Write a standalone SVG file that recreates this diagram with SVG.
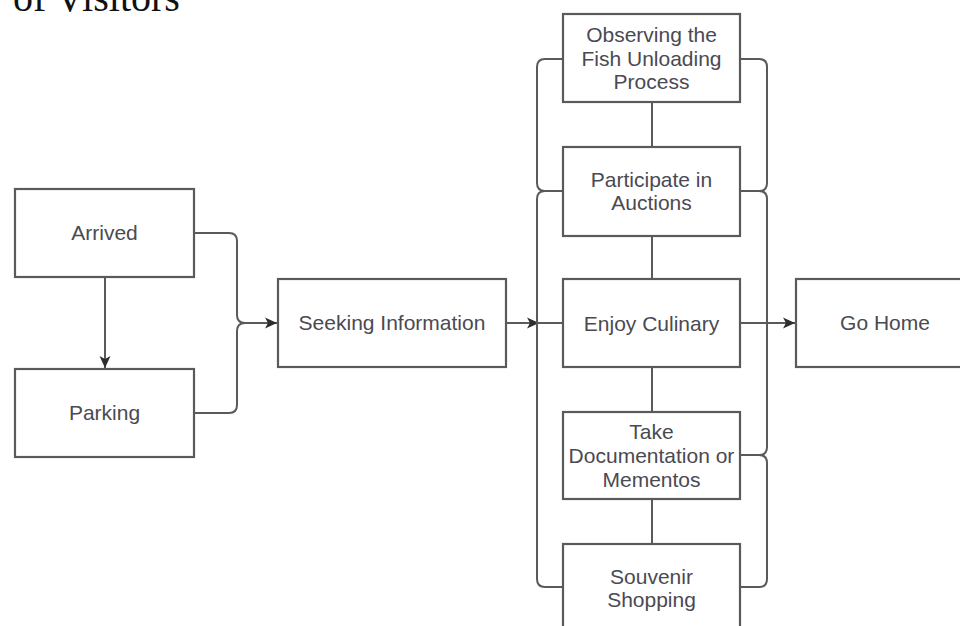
<svg xmlns="http://www.w3.org/2000/svg" width="960" height="626" viewBox="0 0 960 626">
  <defs>
    <marker id="arr" markerUnits="userSpaceOnUse" markerWidth="14" markerHeight="14" viewBox="0 0 14 14" refX="13" refY="7" orient="auto">
      <path d="M1,1.5 L13,7 L1,12.5 L4,7 Z" fill="#2e2e2e"/>
    </marker>
  </defs>
  <style>
    .box { fill: #ffffff; stroke: #5a5a5a; stroke-width: 2.2; }
    .lbl { font-family: "Liberation Sans", Arial, sans-serif; font-size: 21px; fill: #4a4a52; text-anchor: middle; }
    .con { fill: none; stroke: #5a5a5a; stroke-width: 2; }
    .title { font-family: "Liberation Serif", "Times New Roman", serif; font-size: 40px; fill: #111; }
  </style>
  <rect width="960" height="626" fill="#ffffff"/>
  <text class="title" x="13" y="11">of Visitors</text>

  <g id="connectors">
    <line class="con" x1="105" y1="277" x2="105" y2="368" marker-end="url(#arr)"/>
    <path class="con" d="M194,233 H229 Q237,233 237,241 V315 Q237,323 245,323 H277" marker-end="url(#arr)"/>
    <path class="con" d="M194,413 H229 Q237,413 237,405 V331 Q237,323 245,323"/>
    <line class="con" x1="506" y1="323" x2="539" y2="323" marker-end="url(#arr)"/>
    <line class="con" x1="537" y1="323" x2="563" y2="323"/>
    <path class="con" d="M563,59 H545 Q537,59 537,67 V183 Q537,191 545,191 H563"/>
    <path class="con" d="M563,191 H545 Q537,191 537,199 V579 Q537,587 545,587 H563"/>
    <path class="con" d="M740,59 H759 Q767,59 767,67 V183 Q767,191 759,191 H740"/>
    <path class="con" d="M740,191 H759 Q767,191 767,199 V447 Q767,455 759,455 H740"/>
    <path class="con" d="M740,587 H759 Q767,587 767,579 V463 Q767,455 759,455"/>
    <line class="con" x1="740" y1="323" x2="795" y2="323" marker-end="url(#arr)"/>
    <line class="con" x1="652" y1="102" x2="652" y2="147"/>
    <line class="con" x1="652" y1="236" x2="652" y2="279"/>
    <line class="con" x1="652" y1="367" x2="652" y2="412"/>
    <line class="con" x1="652" y1="499" x2="652" y2="544"/>
  </g>

  <g id="arrived">
    <rect class="box" x="15" y="189" width="179" height="88"/>
    <text class="lbl" x="104.5" y="240">Arrived</text>
  </g>
  <g id="parking">
    <rect class="box" x="15" y="369" width="179" height="88"/>
    <text class="lbl" x="104.5" y="420">Parking</text>
  </g>
  <g id="seeking">
    <rect class="box" x="278" y="279" width="228" height="88"/>
    <text class="lbl" x="392" y="330">Seeking Information</text>
  </g>
  <g id="observing">
    <rect class="box" x="563" y="14" width="177" height="88"/>
    <text class="lbl" x="651.5" y="42">Observing the</text>
    <text class="lbl" x="651.5" y="66">Fish Unloading</text>
    <text class="lbl" x="651.5" y="89">Process</text>
  </g>
  <g id="participate">
    <rect class="box" x="563" y="147" width="177" height="89"/>
    <text class="lbl" x="651.5" y="187">Participate in</text>
    <text class="lbl" x="651.5" y="210">Auctions</text>
  </g>
  <g id="culinary">
    <rect class="box" x="563" y="279" width="177" height="88"/>
    <text class="lbl" x="651.5" y="331">Enjoy Culinary</text>
  </g>
  <g id="documentation">
    <rect class="box" x="563" y="412" width="177" height="87"/>
    <text class="lbl" x="651.5" y="439">Take</text>
    <text class="lbl" x="651.5" y="463">Documentation or</text>
    <text class="lbl" x="651.5" y="487">Mementos</text>
  </g>
  <g id="souvenir">
    <rect class="box" x="563" y="544" width="177" height="90"/>
    <text class="lbl" x="651.5" y="584">Souvenir</text>
    <text class="lbl" x="651.5" y="607">Shopping</text>
  </g>
  <g id="gohome">
    <rect class="box" x="796" y="279" width="180" height="88"/>
    <text class="lbl" x="885" y="330">Go Home</text>
  </g>
</svg>
